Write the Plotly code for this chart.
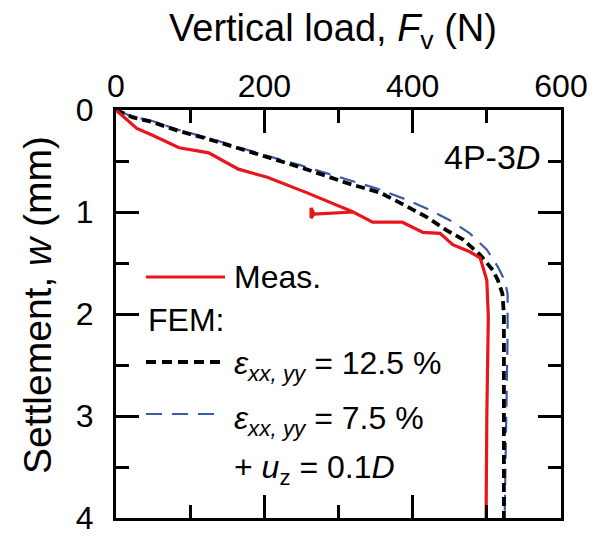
import plotly.graph_objects as go

# Measured curve (load N, settlement mm)
meas_F = [0, 28, 50, 85, 110, 125, 165, 204, 257, 302, 320, 267, 263, 263, 267, 320,
          346, 386, 414, 437, 454, 477, 491, 500, 502, 500, 499]
meas_w = [0, 0.18, 0.25, 0.37, 0.40, 0.42, 0.58, 0.66, 0.81, 0.95, 1.00, 1.02, 0.96, 1.06, 1.02, 1.00,
          1.10, 1.10, 1.20, 1.21, 1.32, 1.39, 1.45, 1.67, 2.03, 3.0, 4.0]

# FEM eps = 12.5 %
fem1_F = [0, 22, 50, 82, 127, 171, 204, 248, 313, 356, 383, 419, 446, 468, 491, 508, 515, 521, 523, 523]
fem1_w = [0, 0.07, 0.12, 0.20, 0.29, 0.39, 0.46, 0.56, 0.72, 0.81, 0.91, 1.05, 1.18, 1.27, 1.42, 1.57, 1.67, 1.8, 2.0, 4.0]

# FEM eps = 7.5 % + uz = 0.1D
fem2_F = [0, 22, 50, 82, 127, 171, 204, 248, 293, 356, 392, 423, 450, 477, 500, 515, 524, 528, 528, 526, 524]
fem2_w = [0, 0.065, 0.11, 0.19, 0.28, 0.38, 0.45, 0.54, 0.64, 0.78, 0.88, 0.98, 1.08, 1.21, 1.37, 1.54, 1.67, 1.8, 2.2, 3.0, 4.0]

x_ticks = [0, 200, 400, 600]
y_ticks = [0, 1, 2, 3, 4]

RED = "#e8161c"
BLUE = "#3b5ba9"
FONT = "Liberation Sans, Arial, sans-serif"

ML, MR, MT, MB = 116, 36, 110, 22
W, H = 597, 540
PW, PH = W - ML - MR, H - MT - MB


def px(x):
    return (x - ML) / PW


def py(y):
    return (H - MB - y) / PH


fig = go.Figure()
fig.add_trace(go.Scatter(x=fem2_F, y=fem2_w, mode="lines",
                         line=dict(color=BLUE, width=2.2, dash="16px,10px"), showlegend=False))
fig.add_trace(go.Scatter(x=fem1_F, y=fem1_w, mode="lines",
                         line=dict(color="black", width=3.8, dash="9px,5px"), showlegend=False))
fig.add_trace(go.Scatter(x=meas_F, y=meas_w, mode="lines",
                         line=dict(color=RED, width=3.2), showlegend=False))

axis_common = dict(showgrid=False, zeroline=False, showline=True, linecolor="black", linewidth=3,
                   mirror="allticks", ticks="inside", tickcolor="black", tickwidth=3, ticklen=23,
                   automargin=False,
                   tickfont=dict(size=32, color="black", family=FONT))

fig.update_xaxes(range=[0, 600], side="top", tickvals=x_ticks,
                 minor=dict(dtick=100, ticklen=13, tickwidth=3, tickcolor="black", ticks="inside"),
                 ticklabelstandoff=-3, **axis_common)
fig.update_yaxes(range=[4, 0], tickvals=y_ticks,
                 minor=dict(dtick=0.5, ticklen=13, tickwidth=3, tickcolor="black", ticks="inside"),
                 ticklabelstandoff=13, **axis_common)


def txt(text, x, y, size=32, xanchor="left", angle=0):
    return dict(text=text, x=px(x), y=py(y), xref="paper", yref="paper", xanchor=xanchor,
                yanchor="middle", textangle=angle, showarrow=False,
                font=dict(size=size, family=FONT, color="black"))


ann = [
    txt("Vertical load, <i>F</i><sub>v</sub> (N)", 333, 31, size=38, xanchor="center"),
    txt("Settlement, <i>w</i> (mm)", 37, 305, size=39, xanchor="center", angle=-90),
    txt("4P-3<i>D</i>", 542, 157, size=34, xanchor="right"),
    txt("Meas.", 232, 277),
    txt("FEM:", 146, 320),
    txt("<i>ε</i><sub><i>xx, yy</i></sub> = 12.5 %", 232, 365),
    txt("<i>ε</i><sub><i>xx, yy</i></sub> = 7.5 %", 232, 420),
    txt("+ <i>u</i><sub>z</sub> = 0.1<i>D</i>", 232, 469),
]

shapes = [
    dict(type="line", xref="paper", yref="paper", x0=px(146), x1=px(225), y0=py(277), y1=py(277),
         line=dict(color=RED, width=3.2)),
    dict(type="line", xref="paper", yref="paper", x0=px(146), x1=px(222), y0=py(362), y1=py(362),
         line=dict(color="black", width=3.8, dash="10px,6px")),
    dict(type="line", xref="paper", yref="paper", x0=px(146), x1=px(216), y0=py(414), y1=py(414),
         line=dict(color=BLUE, width=2.2, dash="16px,10px")),
]

fig.update_layout(width=W, height=H, margin=dict(l=ML, r=MR, t=MT, b=MB),
                  plot_bgcolor="white", paper_bgcolor="white",
                  font=dict(family=FONT, color="black"),
                  annotations=ann, shapes=shapes, showlegend=False)

fig.write_html("out.html")
